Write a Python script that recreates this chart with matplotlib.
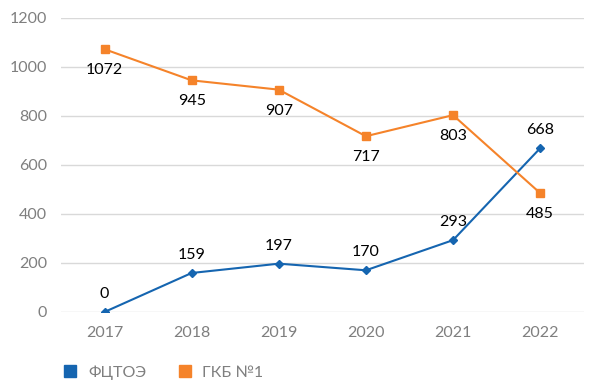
import matplotlib
matplotlib.use("Agg")
import matplotlib.pyplot as plt

years = ["2017", "2018", "2019", "2020", "2021", "2022"]
fctoe = [0, 159, 197, 170, 293, 668]
gkb = [1072, 945, 907, 717, 803, 485]
y_ticks = [0, 200, 400, 600, 800, 1000, 1200]

blue = "#1565b0"
orange = "#f5832a"

plt.rcParams['font.family'] = ['Lato', 'DejaVu Sans']

fig = plt.figure(figsize=(5.92, 3.88), dpi=100)
ax = fig.add_axes([0.103, 0.196, 0.883, 0.758])

x = list(range(len(years)))
ax.plot(x, fctoe, color=blue, lw=1.5, marker="D", ms=4, label="ФЦТОЭ")
ax.plot(x, gkb, color=orange, lw=1.5, marker="s", ms=6, label="ГКБ №1")

for xi, v in zip(x, fctoe):
    ax.annotate(str(v), (xi, v), xytext=(0, 8), textcoords="offset points",
                ha="center", va="bottom", fontsize=11.5, color="black")
for xi, v in zip(x, gkb):
    ax.annotate(str(v), (xi, v), xytext=(0, -10), textcoords="offset points",
                ha="center", va="top", fontsize=11.5, color="black")

ax.set_xlim(-0.5, len(years) - 0.5)
ax.set_ylim(0, 1200)
ax.set_yticks(y_ticks)
ax.set_xticks(x)
ax.set_xticklabels(years)
ax.tick_params(length=0, labelsize=11.5, labelcolor="#7f7f7f", pad=10)
ax.grid(axis="y", color="#d9d9d9", lw=1)
ax.set_axisbelow(True)
for s in ax.spines.values():
    s.set_visible(False)

handles = [plt.Line2D([], [], ls="", marker="s", ms=8.5, color=blue),
           plt.Line2D([], [], ls="", marker="s", ms=8.5, color=orange)]
leg = fig.legend(handles, ["ФЦТОЭ", "ГКБ №1"], loc="center left",
                 bbox_to_anchor=(0.084, 0.04), ncol=2, frameon=False,
                 fontsize=11.5, handletextpad=0.7, columnspacing=2.0,
                 handlelength=0.8)
for t in leg.get_texts():
    t.set_color("#7f7f7f")

fig.savefig("out.png", dpi=100)
